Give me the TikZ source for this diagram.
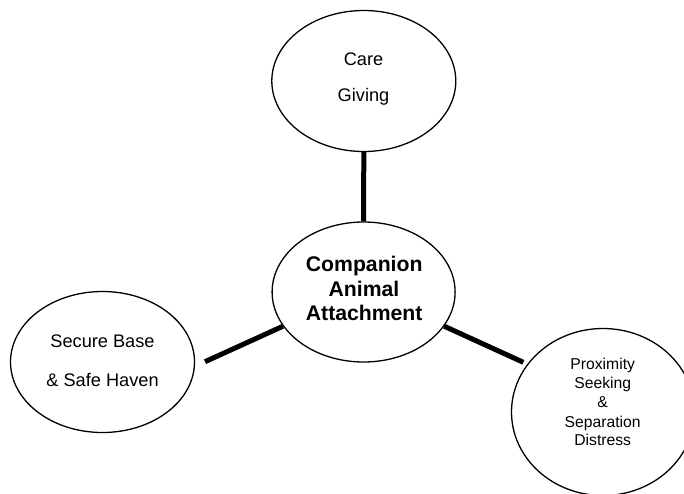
\documentclass[tikz,border=0pt]{standalone}
\usepackage{fontspec}
\setmainfont{Liberation Sans}
\usetikzlibrary{shapes.geometric}
\tikzset{
  oval/.style={draw=black, ellipse, line width=1.3pt, inner sep=0pt},
  link/.style={draw=black, line width=5pt},
  txt/.style={inner sep=0pt, anchor=base, font=\fontsize{18.2}{22}\selectfont},
  btxt/.style={inner sep=0pt, anchor=base, font=\fontsize{21.2}{25}\selectfont\bfseries},
  stxt/.style={inner sep=0pt, anchor=base, font=\fontsize{15.7}{19}\selectfont}
}
\begin{document}
\begin{tikzpicture}[x=1pt,y=-1pt]
\useasboundingbox (0,0) rectangle (684,493);
\clip (0,0) rectangle (684,493);
\fill[white] (0,0) rectangle (684,493);
% ellipses
\node[oval, minimum width=184pt, minimum height=141pt] (cg) at (363.8,81) {};
\node[oval, minimum width=183pt, minimum height=140pt] (ca) at (363.6,292) {};
\node[oval, minimum width=184pt, minimum height=141pt] (sb) at (102.5,362) {};
\node[oval, minimum width=183pt, minimum height=167pt] (ps) at (603,412) {};
% free ends of connectors
\coordinate (sbend) at (205,361.7);
\coordinate (psend) at (523.3,362.3);
% connectors
\draw[link] (cg.south) -- (ca.north);
\draw[link] (sbend) -- (ca.203);
\draw[link] (ca.337) -- (psend);
% texts
\node[txt] (cg1) at (363.5,65.3) {Care};
\node[txt] (cg2) at (363.5,101.7) {Giving};
\node[txt] (sb1) at (102.5,347.7) {Secure Base};
\node[txt] (sb2) at (102.5,386) {\& Safe Haven};
\node[btxt] (ca1) at (364.2,271.5) {Companion};
\node[btxt] (ca2) at (364,296) {Animal};
\node[btxt] (ca3) at (364.2,320.5) {Attachment};
\node[stxt] (ps1) at (602.7,369) {Proximity};
\node[stxt] (ps2) at (602.7,388.3) {Seeking};
\node[stxt] (ps3) at (602.7,407.7) {\&};
\node[stxt] (ps4) at (602.7,427.7) {Separation};
\node[stxt] (ps5) at (602.7,445.7) {Distress};
\end{tikzpicture}
\end{document}
